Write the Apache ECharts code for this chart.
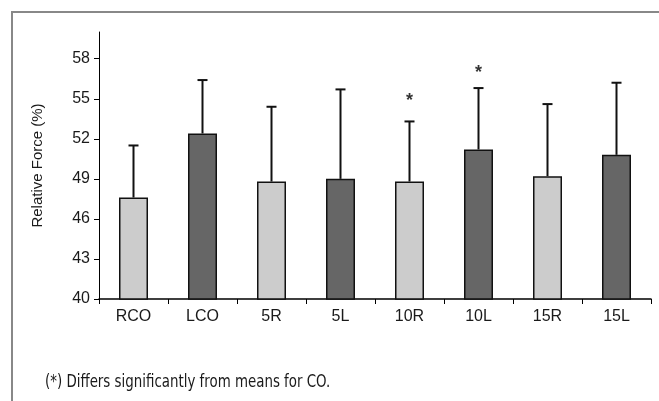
<!DOCTYPE html>
<html>
<head>
<meta charset="utf-8">
<script src="https://cdn.jsdelivr.net/npm/echarts@6/dist/echarts.min.js"></script>
<style>
html,body{margin:0;padding:0;background:#fff;}
#chart{width:659px;height:401px;}
</style>
</head>
<body>
<div id="chart"></div>
<script>
var categories = ['RCO', 'LCO', '5R', '5L', '10R', '10L', '15R', '15L'];
var means = [47.6, 52.4, 48.8, 49.0, 48.8, 51.2, 49.2, 50.8];
var errorTops = [51.5, 56.4, 54.4, 55.7, 53.3, 55.8, 54.6, 56.2];
var starValues = [null, null, null, null, 55.1, 57.2, null, null];
var yTicks = [40, 43, 46, 49, 52, 55, 58];
var barColors = ['#cccccc', '#666666', '#cccccc', '#666666', '#cccccc', '#666666', '#cccccc', '#666666'];
var yName = 'Relative Force (%)';
var footnote = '(*) Differs significantly from means for CO.';

var chart = echarts.init(document.getElementById('chart'), null, {renderer: 'canvas'});

var barData = means.map(function (v, i) {
  return {value: v, itemStyle: {color: barColors[i]}};
});
var errData = means.map(function (v, i) { return [i, v, errorTops[i]]; });
var starData = starValues.map(function (v, i) { return v == null ? null : [i, v]; }).filter(function (d) { return d; });

var option = {
  animation: false,
  backgroundColor: '#ffffff',
  textStyle: {fontFamily: 'Liberation Sans, Arial, sans-serif'},
  grid: {left: 99, top: 32, right: 8, bottom: 102, containLabel: false},
  graphic: [
    {type: 'rect', shape: {x: 12, y: 12, width: 700, height: 450}, style: {fill: 'none', stroke: '#888888', lineWidth: 2}, z: 100},
    {type: 'text', x: 45, y: 374, scaleX: 0.875, style: {text: footnote, fill: '#1a1a1a', font: '17px "Liberation Sans Narrow", "DejaVu Sans Condensed", sans-serif'}}
  ],
  xAxis: {
    type: 'category',
    data: categories,
    axisLine: {lineStyle: {color: '#000', width: 1.5}},
    axisTick: {show: true, length: 5, alignWithLabel: false, lineStyle: {color: '#000'}},
    axisLabel: {color: '#1a1a1a', fontSize: 16, margin: 10, fontFamily: 'Liberation Sans'}
  },
  yAxis: {
    type: 'value',
    min: 40,
    max: 60,
    interval: 1,
    name: yName,
    nameLocation: 'middle',
    nameGap: 54,
    nameTextStyle: {color: '#1a1a1a', fontSize: 15, fontFamily: 'Liberation Sans'},
    splitLine: {show: false},
    axisLine: {show: true, lineStyle: {color: '#000', width: 1}},
    axisTick: {show: true, length: 5, customValues: yTicks, lineStyle: {color: '#000'}},
    axisLabel: {color: '#1a1a1a', fontSize: 16, margin: 9, customValues: yTicks, fontFamily: 'Liberation Sans'}
  },
  series: [
    {
      type: 'bar',
      data: barData,
      barWidth: 29,
      itemStyle: {borderColor: '#111', borderWidth: 1.5},
      z: 2
    },
    {
      type: 'custom',
      data: errData,
      z: 3,
      renderItem: function (params, api) {
        var x = api.value(0);
        var b = api.coord([x, api.value(1)]);
        var t = api.coord([x, api.value(2)]);
        return {
          type: 'group',
          children: [
            {type: 'line', shape: {x1: b[0], y1: b[1], x2: t[0], y2: t[1]}, style: {stroke: '#111', lineWidth: 2}},
            {type: 'line', shape: {x1: t[0] - 5, y1: t[1], x2: t[0] + 5, y2: t[1]}, style: {stroke: '#111', lineWidth: 2}}
          ]
        };
      }
    },
    {
      type: 'scatter',
      data: starData,
      symbolSize: 1,
      itemStyle: {color: 'rgba(0,0,0,0)'},
      label: {show: true, position: 'inside', formatter: '*', color: '#000', fontSize: 18, fontWeight: 'bold', offset: [0, 4]},
      z: 4
    }
  ]
};
chart.setOption(option);
</script>
</body>
</html>
